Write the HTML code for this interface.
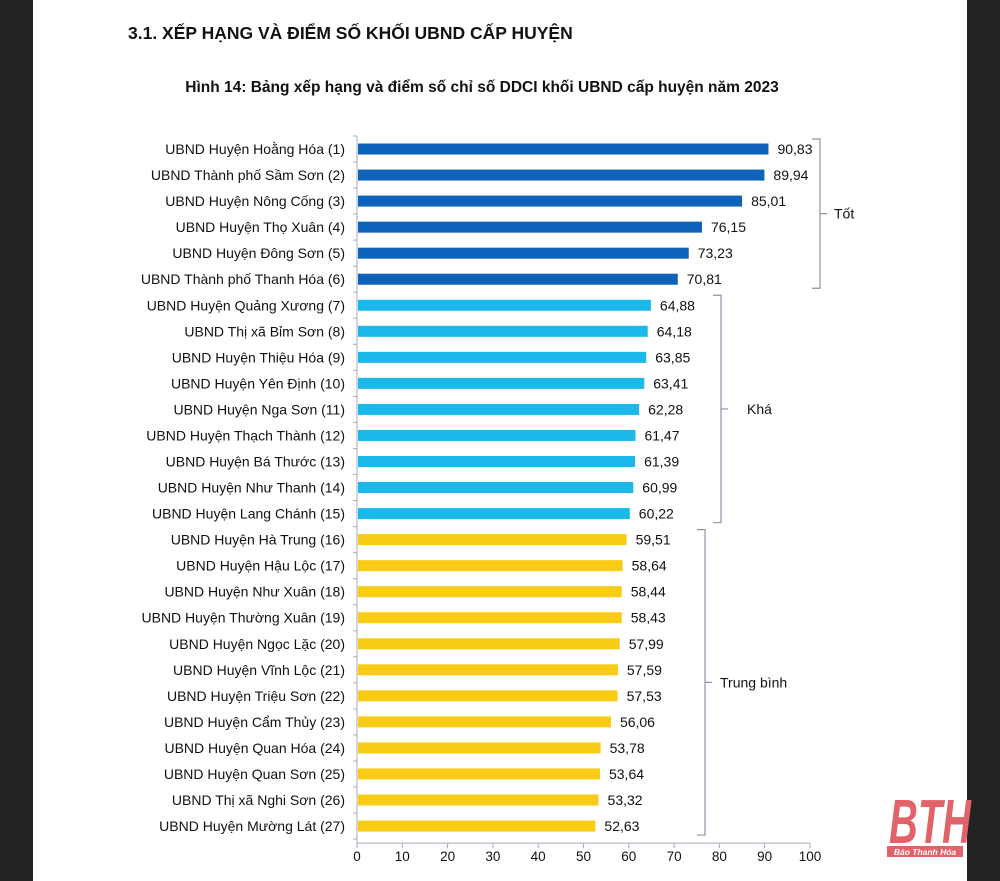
<!DOCTYPE html>
<html><head><meta charset="utf-8"><style>
body{margin:0;width:1000px;height:881px;background:#fff;position:relative;overflow:hidden;font-family:"Liberation Sans",Arial,sans-serif}
#lb{position:absolute;left:0;top:0;width:33px;height:881px;background:#222}
#rb{position:absolute;left:967px;top:0;width:33px;height:881px;background:#222}
</style></head><body>
<div id="lb"></div>
<div id="rb"></div>
<svg width="1000" height="881" style="position:absolute;left:0;top:0">
<text x="128" y="39" font-size="17.5" font-weight="bold" fill="#111">3.1. XẾP HẠNG VÀ ĐIỂM SỐ KHỐI UBND CẤP HUYỆN</text>
<text x="482" y="92" font-size="15.5" font-weight="bold" fill="#111" text-anchor="middle">Hình 14: Bảng xếp hạng và điểm số chỉ số DDCI khối UBND cấp huyện năm 2023</text>
<g id="plot"></g>
<g>
<text x="889" y="843" font-size="62" font-weight="bold" font-style="italic" fill="#e2626a" textLength="82" lengthAdjust="spacingAndGlyphs">BTH</text>
<rect x="887" y="846" width="76" height="11" fill="#e2626a"/>
<text x="925" y="855" font-size="8.5" font-style="italic" font-weight="bold" fill="#fff" text-anchor="middle">Báo Thanh Hóa</text>
</g>
</svg>
<script>
const categories=["UBND Huyện Hoằng Hóa (1)","UBND Thành phố Sầm Sơn (2)","UBND Huyện Nông Cống (3)","UBND Huyện Thọ Xuân (4)","UBND Huyện Đông Sơn (5)","UBND Thành phố Thanh Hóa (6)","UBND Huyện Quảng Xương (7)","UBND Thị xã Bỉm Sơn (8)","UBND Huyện Thiệu Hóa (9)","UBND Huyện Yên Định (10)","UBND Huyện Nga Sơn (11)","UBND Huyện Thạch Thành (12)","UBND Huyện Bá Thước (13)","UBND Huyện Như Thanh (14)","UBND Huyện Lang Chánh (15)","UBND Huyện Hà Trung (16)","UBND Huyện Hậu Lộc (17)","UBND Huyện Như Xuân (18)","UBND Huyện Thường Xuân (19)","UBND Huyện Ngọc Lặc (20)","UBND Huyện Vĩnh Lộc (21)","UBND Huyện Triệu Sơn (22)","UBND Huyện Cẩm Thủy (23)","UBND Huyện Quan Hóa (24)","UBND Huyện Quan Sơn (25)","UBND Thị xã Nghi Sơn (26)","UBND Huyện Mường Lát (27)"];
const values=[90.83,89.94,85.01,76.15,73.23,70.81,64.88,64.18,63.85,63.41,62.28,61.47,61.39,60.99,60.22,59.51,58.64,58.44,58.43,57.99,57.59,57.53,56.06,53.78,53.64,53.32,52.63];
const groups=["Tốt","Tốt","Tốt","Tốt","Tốt","Tốt","Khá","Khá","Khá","Khá","Khá","Khá","Khá","Khá","Khá","Trung bình","Trung bình","Trung bình","Trung bình","Trung bình","Trung bình","Trung bình","Trung bình","Trung bình","Trung bình","Trung bình","Trung bình"];
const ticks=[0,10,20,30,40,50,60,70,80,90,100];
const groupNames=["Tốt","Khá","Trung bình"];
const colors={"Tốt":"#0e62b9","Khá":"#1bb9e9","Trung bình":"#f8cb14"};
const bracketX={"Tốt":820,"Khá":721,"Trung bình":705};
const labelGap={"Tốt":14,"Khá":26,"Trung bình":15};
const NS="http://www.w3.org/2000/svg";
const g=document.getElementById('plot');
const x0=357,x1=810,yTop=136,step=26.04;
const xs=v=>x0+(v/100)*(x1-x0);
const ys=i=>yTop+step*i+step/2;
function mk(t,a){const e=document.createElementNS(NS,t);for(const k in a)e.setAttribute(k,a[k]);g.appendChild(e);return e;}
const yb=yTop+step*categories.length;
let ax=mk('line',{x1:x0,y1:yTop,x2:x0,y2:yb+4,stroke:'#aab',"stroke-width":1});


let bx=mk('line',{x1:x0,y1:yb+4,x2:x1,y2:yb+4,stroke:'#aab',"stroke-width":1});


for(let i=0;i<=categories.length;i++){mk('line',{x1:x0-4,y1:yTop+step*i,x2:x0,y2:yTop+step*i,stroke:'#aab'});}
ticks.forEach(t=>{
 mk('line',{x1:xs(t),y1:yb+4,x2:xs(t),y2:yb+9,stroke:'#aab'});
 const tl=mk('text',{x:xs(t),y:yb+22,"font-size":13.5,"text-anchor":"middle",fill:"#111"});
 tl.textContent=t;
 
 
});
categories.forEach((c,i)=>{
 const y=ys(i);
 const lab=mk('text',{x:x0-12,y:y+5,"font-size":14,"text-anchor":"end",fill:"#111"});
 lab.textContent=c;
 
 
 const b=mk('rect',{x:x0+1,y:y-5.5,width:xs(values[i])-x0-1,height:11,fill:colors[groups[i]]});
 
 
 const v=mk('text',{x:xs(values[i])+9,y:y+5,"font-size":14,fill:"#111"});
 v.textContent=values[i].toFixed(2).replace('.',',');
 
 
});
groupNames.forEach(gn=>{
 const idx=groups.map((q,i)=>q===gn?i:-1).filter(i=>i>=0);
 const a=idx[0],b=idx[idx.length-1];
 const mx=bracketX[gn];
 const top=ys(a)-10,bot=ys(b)+9,mid=(top+bot)/2;
 const p=mk('path',{d:`M${mx-8},${top} L${mx},${top} L${mx},${bot} L${mx-8},${bot} M${mx},${mid} L${mx+7},${mid}`,stroke:'#8a94a8',fill:'none',"stroke-width":1.2});
 
 
 const t=mk('text',{x:mx+labelGap[gn],y:mid+5,"font-size":14,fill:"#111"});
 t.textContent=gn;
 
 
});
</script>
</body></html>
